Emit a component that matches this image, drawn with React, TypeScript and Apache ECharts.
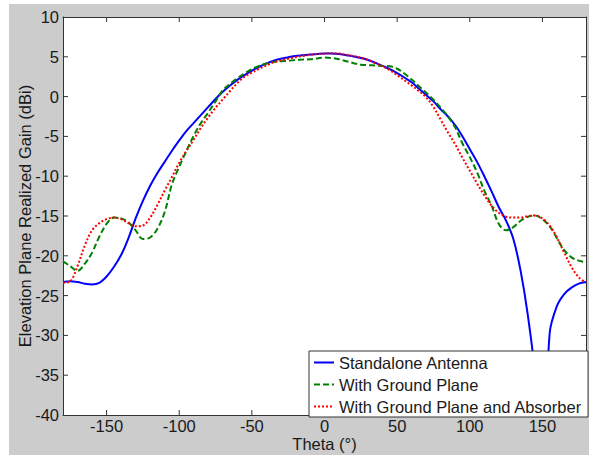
import React, { useEffect, useRef } from "react";
import * as echarts from "echarts";

const theta = [
  -180, -175, -170, -165, -160, -155, -150, -145, -140, -135, -130, -125, -120, -115, -110, -105, -100, -95, -90, -85,
  -80, -75, -70, -65, -60, -55, -50, -45, -40, -35, -30, -25, -20, -15, -10, -5, 0, 5, 10, 15, 20, 25, 30, 35, 40, 45,
  50, 55, 60, 65, 70, 75, 80, 85, 90, 95, 100, 105, 110, 115, 120, 125, 130, 135, 140, 145, 150, 155, 160, 165, 170,
  175, 180,
];

const standalone = [
  -23.3, -23.2, -23.3, -23.5, -23.6, -23.4, -22.6, -21.4, -19.9, -17.8, -15.3, -13.1, -11.2, -9.6, -8.2, -6.8, -5.5,
  -4.3, -3.3, -2.3, -1.3, -0.3, 0.6, 1.4, 2.1, 2.7, 3.25, 3.75, 4.15, 4.5, 4.75, 4.95, 5.1, 5.2, 5.3, 5.35, 5.4, 5.4,
  5.35, 5.2, 5.05, 4.85, 4.6, 4.25, 3.85, 3.45, 2.95, 2.4, 1.8, 1.0, 0.2, -0.6, -1.6, -2.5, -3.6, -5.0, -6.6, -8.2,
  -10.0, -11.9, -13.9, -15.6, -17.9, -21.9, -27.5, -35.0, -48.0, -29.7, -26.3, -24.8, -24.0, -23.5, -23.3,
];

const groundPlane = [
  -20.7, -21.3, -21.9, -21.0, -19.6, -17.6, -16.0, -15.2, -15.3, -15.8, -16.8, -17.9, -17.7, -16.6, -14.5, -11.0,
  -8.8, -6.8, -4.9, -3.3, -2.0, -0.6, 0.8, 1.6, 2.3, 2.9, 3.45, 3.85, 4.15, 4.35, 4.45, 4.5, 4.6, 4.65, 4.7, 4.8, 4.9,
  4.85, 4.7, 4.45, 4.2, 4.0, 3.95, 3.9, 3.85, 3.8, 3.5, 2.9, 2.15, 1.3, 0.5, -0.4, -1.4, -2.5, -3.9, -5.9, -7.6, -9.5,
  -11.8, -13.7, -16.0, -16.8, -16.4, -15.6, -15.1, -14.95, -15.4, -16.3, -17.8, -19.3, -20.2, -20.6, -20.8,
];

const groundPlaneAbsorber = [
  -23.4, -23.2, -21.3, -18.7, -16.8, -15.9, -15.4, -15.2, -15.4, -15.9, -16.3, -16.2, -15.2, -13.6, -11.8, -10.1,
  -8.3, -6.8, -5.4, -3.9, -2.6, -1.4, -0.35, 0.7, 1.7, 2.5, 3.0, 3.5, 3.9, 4.3, 4.55, 4.75, 4.95, 5.1, 5.25, 5.35,
  5.4, 5.45, 5.4, 5.25, 5.1, 4.9, 4.6, 4.2, 3.8, 3.3, 2.7, 2.05, 1.4, 0.7, -0.1, -1.3, -2.9, -4.5, -6.0, -7.7, -9.3,
  -10.9, -12.4, -13.7, -14.6, -15.1, -15.2, -15.2, -15.0, -14.95, -15.3, -16.2, -17.7, -19.6, -21.4, -22.7, -23.4,
];

const seriesNames = ["Standalone Antenna", "With Ground Plane", "With Ground Plane and Absorber"];
const xTicks = [-150, -100, -50, 0, 50, 100, 150];
const yTicks = [-35, -30, -25, -20, -15, -10, -5, 0, 5];

const X_MIN = -180;
const X_MAX = 180;
const Y_MIN = -40;
const Y_MAX = 10;

const FONT = "'Liberation Sans', Arial, sans-serif";
const TXT = "#1a1a1a";
const FS = 16.5;
const AX = "#333333";
const TICK_LEN = 5;

export default function App() {
  const ref = useRef<HTMLDivElement>(null);

  useEffect(() => {
    if (!ref.current) return;
    const chart = echarts.init(ref.current, undefined, { renderer: "svg" });
    const zip = (ys: number[]) => theta.map((t, i) => [t, ys[i]]);

    const xBase = {
      type: "value",
      min: X_MIN,
      max: X_MAX,
      axisLine: { show: true, onZero: false, lineStyle: { color: AX, width: 1 } },
      splitLine: { show: false },
      axisTick: { show: false },
    };
    const yBase = {
      type: "value",
      min: Y_MIN,
      max: Y_MAX,
      interval: 5,
      axisLine: { show: true, onZero: false, lineStyle: { color: AX, width: 1 } },
      splitLine: { show: false },
      axisTick: { show: false },
    };

    const tickStyle = { stroke: AX, lineWidth: 1 };

    chart.setOption({
      animation: false,
      textStyle: { fontFamily: FONT },
      grid: {
        left: 63,
        right: 3,
        top: 17,
        bottom: 40,
        show: false,
        containLabel: false,
        outerBoundsMode: "none",
      },
      xAxis: [
        {
          ...xBase,
          position: "bottom",
          name: "Theta (°)",
          nameLocation: "middle",
          nameGap: 20,
          nameMoveOverlap: false,
          nameTextStyle: { fontSize: FS, color: TXT, fontFamily: FONT },
          axisLabel: { show: true, customValues: xTicks, fontSize: FS, color: TXT, margin: 2, fontFamily: FONT },
        },
        {
          ...xBase,
          position: "top",
          axisLabel: { show: false },
        },
      ],
      yAxis: [
        {
          ...yBase,
          position: "left",
          name: "Elevation Plane Realized Gain (dBi)",
          nameLocation: "middle",
          nameGap: 30,
          nameMoveOverlap: false,
          nameTextStyle: { fontSize: FS, color: TXT, fontFamily: FONT },
          axisLabel: { show: true, fontSize: FS, color: TXT, margin: 4, fontFamily: FONT },
        },
        {
          ...yBase,
          position: "right",
          axisLabel: { show: false },
        },
      ],
      legend: {
        orient: "vertical",
        left: 309,
        top: 351,
        backgroundColor: "#ffffff",
        borderColor: AX,
        borderWidth: 1,
        borderRadius: 0,
        padding: [3, 6, 2, 4],
        itemGap: 5,
        itemWidth: 20,
        itemHeight: 14,
        itemStyle: { opacity: 0 },
        textStyle: { fontSize: FS, color: TXT, fontFamily: FONT },
        data: seriesNames,
      },
      series: [
        {
          name: seriesNames[0],
          type: "line",
          data: zip(standalone),
          showSymbol: false,
          symbol: "none",
          smooth: 0.35,
          lineStyle: { color: "#0000ff", width: 2, type: "solid" },
          itemStyle: { color: "#0000ff" },
        },
        {
          name: seriesNames[1],
          type: "line",
          data: zip(groundPlane),
          showSymbol: false,
          symbol: "none",
          smooth: 0.35,
          lineStyle: { color: "#008000", width: 2, type: [6, 3] },
          itemStyle: { color: "#008000" },
        },
        {
          name: seriesNames[2],
          type: "line",
          data: zip(groundPlaneAbsorber),
          showSymbol: false,
          symbol: "none",
          smooth: 0.35,
          lineStyle: { color: "#ff0000", width: 2, type: [2, 2] },
          itemStyle: { color: "#ff0000" },
        },
        {
          name: "xticks",
          type: "custom",
          silent: true,
          clip: false,
          z: 1,
          data: xTicks.map((v) => [v, Y_MIN]),
          renderItem: (params: any, api: any) => {
            const v = api.value(0);
            const top = api.coord([v, Y_MAX]);
            const bot = api.coord([v, Y_MIN]);
            return {
              type: "group",
              children: [
                { type: "line", shape: { x1: top[0], y1: top[1], x2: top[0], y2: top[1] + TICK_LEN }, style: tickStyle },
                { type: "line", shape: { x1: bot[0], y1: bot[1], x2: bot[0], y2: bot[1] - TICK_LEN }, style: tickStyle },
              ],
            };
          },
        },
        {
          name: "yticks",
          type: "custom",
          silent: true,
          clip: false,
          z: 1,
          data: yTicks.map((v) => [X_MIN, v]),
          renderItem: (params: any, api: any) => {
            const v = api.value(1);
            const l = api.coord([X_MIN, v]);
            const r = api.coord([X_MAX, v]);
            return {
              type: "group",
              children: [
                { type: "line", shape: { x1: l[0], y1: l[1], x2: l[0] + TICK_LEN, y2: l[1] }, style: tickStyle },
                { type: "line", shape: { x1: r[0], y1: r[1], x2: r[0] - TICK_LEN, y2: r[1] }, style: tickStyle },
              ],
            };
          },
        },
      ],
    });

    return () => chart.dispose();
  }, []);

  return (
    <div style={{ position: "fixed", left: 0, top: 0, width: 589, height: 455, background: "#ffffff" }}>
      <div style={{ position: "absolute", left: 9, top: 4, width: 580, height: 451, background: "#cccccc" }} />
      <div style={{ position: "absolute", left: 63, top: 17, width: 523, height: 398, background: "#ffffff" }} />
      <div ref={ref} style={{ position: "absolute", left: 0, top: 0, width: 589, height: 455 }} />
    </div>
  );
}
